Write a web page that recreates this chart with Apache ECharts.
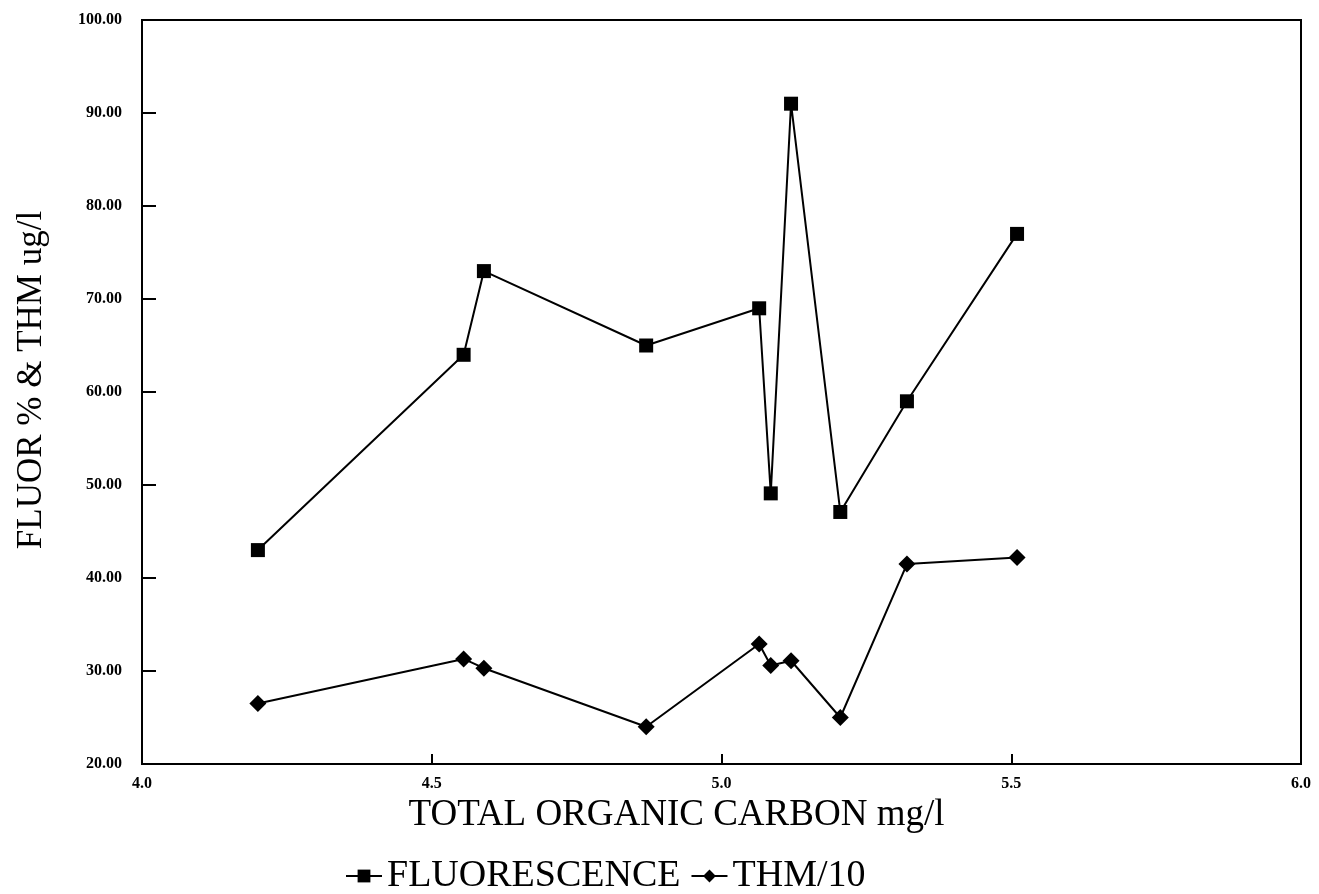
<!DOCTYPE html>
<html>
<head>
<meta charset="utf-8">
<script src="https://cdn.jsdelivr.net/npm/echarts@6/dist/echarts.min.js"></script>
<style>html,body{margin:0;padding:0;background:#fff}#c{width:1319px;height:894px}</style>
</head>
<body>
<div id="c"></div>
<script>
// Data
const tocValues = [4.20, 4.555, 4.59, 4.87, 5.065, 5.085, 5.12, 5.205, 5.32, 5.51];
const fluorescence = [43.0, 64.0, 73.0, 65.0, 69.0, 49.1, 91.0, 47.1, 59.0, 77.0];
const thm10 = [26.5, 31.3, 30.3, 24.0, 32.9, 30.6, 31.1, 25.0, 41.5, 42.2];
const seriesNames = ['FLUORESCENCE', 'THM/10'];
const xTitle = 'TOTAL ORGANIC CARBON mg/l';
const yTitle = 'FLUOR % & THM ug/l';

const pairs = (xs, ys) => xs.map((x, i) => [x, ys[i]]);
const serif = '"Liberation Serif", "DejaVu Serif", serif';

const chart = echarts.init(document.getElementById('c'));
chart.setOption({
  animation: false,
  backgroundColor: '#fff',
  grid: { left: 142, right: 18, top: 20, bottom: 130, show: true, borderColor: '#000', borderWidth: 2,
    backgroundColor: 'transparent', containLabel: false, outerBoundsMode: 'none' },
  xAxis: {
    type: 'value', min: 4, max: 6, interval: 0.5,
    axisLine: { show: true, lineStyle: { color: '#000', width: 2 } },
    axisTick: { show: true, inside: true, length: 10, lineStyle: { color: '#000', width: 2 } },
    splitLine: { show: false },
    axisLabel: { color: '#000', fontFamily: serif, fontWeight: 'bold', fontSize: 16, margin: 12,
      formatter: v => v.toFixed(1) },
    name: xTitle, nameLocation: 'middle', nameGap: 33,
    nameTextStyle: { color: '#000', fontFamily: serif, fontSize: 37, padding: [0, 90, 0, 0] }
  },
  yAxis: {
    type: 'value', min: 20, max: 100, interval: 10,
    axisLine: { show: true, lineStyle: { color: '#000', width: 2 } },
    axisTick: { show: true, inside: true, length: 14, lineStyle: { color: '#000', width: 2 } },
    splitLine: { show: false },
    axisLabel: { color: '#000', fontFamily: serif, fontWeight: 'bold', fontSize: 16, margin: 20,
      formatter: v => v.toFixed(2) },
    name: yTitle, nameLocation: 'middle', nameGap: 93,
    nameTextStyle: { color: '#000', fontFamily: serif, fontSize: 35, padding: [0, 0, 0, 24] }
  },
  legend: {
    left: 340, top: 852, itemWidth: 36, itemHeight: 16, itemGap: 10,
    textStyle: { color: '#000', fontFamily: serif, fontSize: 38 },
    data: seriesNames
  },
  series: [
    { name: seriesNames[0], type: 'line', data: pairs(tocValues, fluorescence),
      symbol: 'rect', symbolSize: 14,
      lineStyle: { color: '#000', width: 2 }, itemStyle: { color: '#000' } },
    { name: seriesNames[1], type: 'line', data: pairs(tocValues, thm10),
      symbol: 'diamond', symbolSize: 17,
      lineStyle: { color: '#000', width: 2 }, itemStyle: { color: '#000' } }
  ]
});
</script>
</body>
</html>
